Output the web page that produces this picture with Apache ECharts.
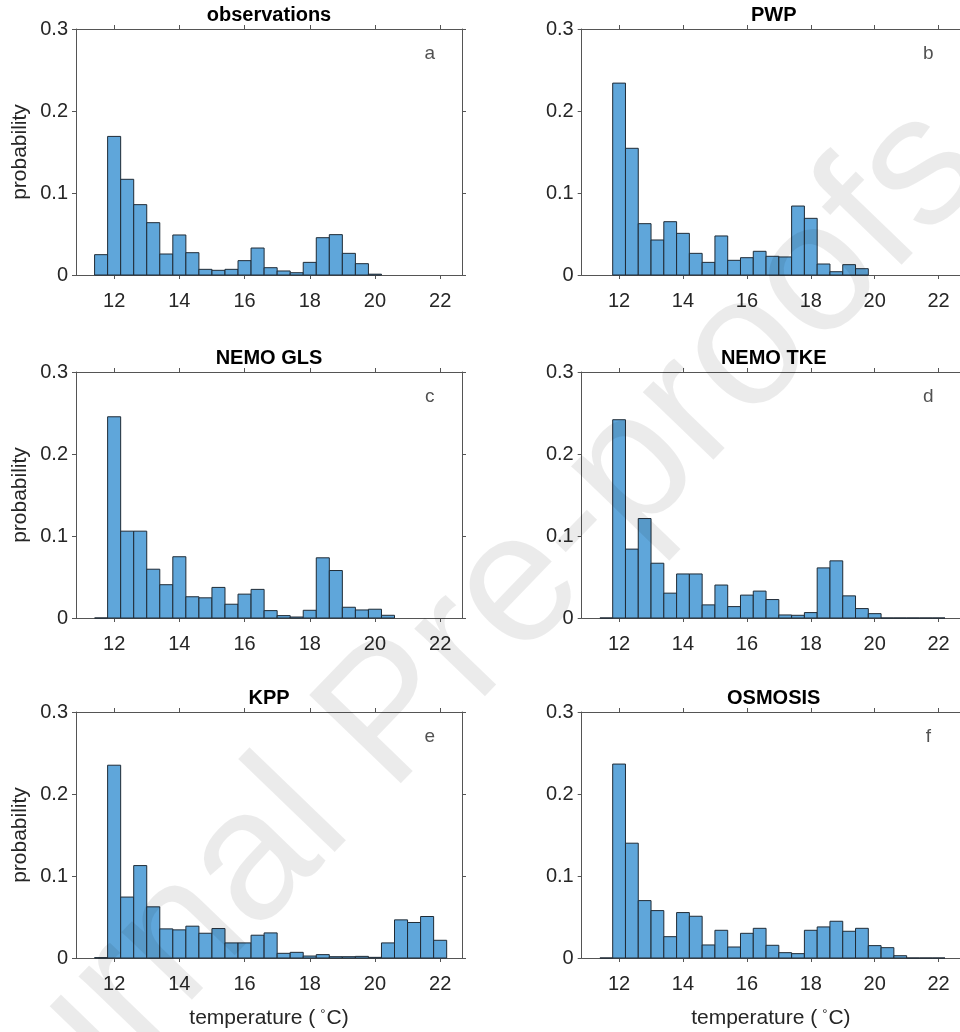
<!DOCTYPE html>
<html>
<head>
<meta charset="utf-8">
<script src="https://cdn.jsdelivr.net/npm/echarts@6/dist/echarts.min.js"></script>
<style>
html,body{margin:0;padding:0;background:#fff;}
#chart{width:960px;height:1032px;}
</style>
</head>
<body>
<div id="chart"></div>
<script>
// ---- data ----
const binEdges = [11.4,11.8,12.2,12.6,13.0,13.4,13.8,14.2,14.6,15.0,15.4,15.8,16.2,16.6,17.0,17.4,17.8,18.2,18.6,19.0,19.4,19.8,20.2,20.6,21.0,21.4,21.8,22.2];
const xTicks = [12,14,16,18,20,22];
const yTicks = [0,0.1,0.2,0.3];
const panelTitles = ['observations','PWP','NEMO GLS','NEMO TKE','KPP','OSMOSIS'];
const panelLetters = ['a','b','c','d','e','f'];

const observations = [0.0248,0.169,0.1167,0.0858,0.0638,0.0256,0.0488,0.0272,0.0069,0.0057,0.0069,0.0175,0.0329,0.0089,0.0049,0.0028,0.0154,0.0455,0.0492,0.0264,0.0138,0.001,null,null,null,null,null];
const pwp = [null,0.234,0.1545,0.0626,0.0427,0.065,0.0508,0.0264,0.0154,0.0476,0.0179,0.0211,0.0289,0.0228,0.022,0.0841,0.0691,0.0134,0.004,0.0126,0.0077,null,null,null,null,null,null];
const nemoGls = [0,0.2454,0.1059,0.1059,0.0595,0.0406,0.0747,0.0259,0.0246,0.0373,0.0168,0.0291,0.0349,0.009,0.0029,0.0012,0.0094,0.0734,0.0579,0.0131,0.0098,0.0107,0.0033,null,null,null,null];
const nemoTke = [0,0.2418,0.084,0.1213,0.0668,0.0303,0.0537,0.0537,0.016,0.0402,0.0139,0.0279,0.0328,0.0225,0.0037,0.0033,0.0066,0.0611,0.0697,0.027,0.0115,0.0053,0,0,0,0,0];
const kpp = [0.0004,0.2351,0.0743,0.1127,0.0624,0.0355,0.0343,0.0388,0.0302,0.0359,0.0184,0.0184,0.0278,0.0306,0.0057,0.0069,0.0024,0.0041,0.0016,0.0016,0.002,0.0008,0.0184,0.0465,0.0433,0.0506,0.0216];
const osmosis = [0,0.2365,0.14,0.07,0.0578,0.026,0.0554,0.0509,0.0159,0.0338,0.0134,0.0301,0.0362,0.0155,0.0065,0.0053,0.0338,0.0379,0.0448,0.0326,0.0362,0.0151,0.0126,0.0028,0,0,0];
const panelSeries = [observations, pwp, nemoGls, nemoTke, kpp, osmosis];

// ---- layout ----
const X_MIN = 10.83, X_MAX = 22.67;
const colLeft = [76, 581.7];
const colWidth = [386, 384];
const rowTop = [29, 372, 712];
const gridH = 246;
const FONT = '"Liberation Sans", Arial, Helvetica, sans-serif';
const TXT = '#262626';
const AX = '#555555';

const chart = echarts.init(document.getElementById('chart'), null, {renderer:'canvas'});

const grids = [], xAxes = [], yAxes = [], series = [], graphics = [];

panelSeries.forEach((vals, i) => {
  const row = Math.floor(i / 2), col = i % 2;
  grids.push({left: colLeft[col], top: rowTop[row], width: colWidth[col], height: gridH, containLabel: false});
  const isBottom = row === 2, isLeft = col === 0;
  const axLine = {show: true, onZero: false, lineStyle: {color: AX, width: 1}};
  const tick = {show: true, inside: false, length: 4, lineStyle: {color: AX, width: 1}};
  xAxes.push({
    type: 'value', gridIndex: i, min: X_MIN, max: X_MAX, position: 'bottom',
    axisLine: axLine,
    axisTick: Object.assign({customValues: xTicks}, tick),
    axisLabel: {customValues: xTicks, fontSize: 20, color: TXT, fontFamily: FONT, margin: 16},
    splitLine: {show: false},
    name: isBottom ? '{n|temperature (}{s|°}{n|C)}' : '',
    nameLocation: 'middle', nameGap: 50,
    nameTextStyle: {fontFamily: FONT, color: TXT, fontSize: 21,
      rich: {n: {fontSize: 21, fontFamily: FONT, color: TXT},
             s: {fontSize: 13, fontFamily: FONT, color: TXT, verticalAlign: 'top', padding: [0, 1, 0, 5]}}}
  });
  xAxes.push({
    type: 'value', gridIndex: i, min: X_MIN, max: X_MAX, position: 'top',
    axisLine: axLine,
    axisTick: Object.assign({customValues: xTicks}, tick),
    axisLabel: {show: false}, splitLine: {show: false}
  });
  yAxes.push({
    type: 'value', gridIndex: i, min: 0, max: 0.3, interval: 0.1, position: 'left',
    axisLine: axLine, axisTick: tick,
    axisLabel: {fontSize: 20, color: TXT, fontFamily: FONT, margin: 8,
      formatter: v => { const t = yTicks.find(y => Math.abs(y - v) < 1e-9); return t === undefined ? '' : String(t); }},
    splitLine: {show: false},
    name: isLeft ? 'probability' : '', nameLocation: 'middle', nameGap: 45,
    nameTextStyle: {fontFamily: FONT, color: TXT, fontSize: 21}
  });
  yAxes.push({
    type: 'value', gridIndex: i, min: 0, max: 0.3, interval: 0.1, position: 'right',
    axisLine: axLine, axisTick: tick, axisLabel: {show: false}, splitLine: {show: false}
  });

  const data = [];
  vals.forEach((v, k) => { if (v !== null) data.push([binEdges[k], binEdges[k + 1], v]); });
  series.push({
    type: 'custom', xAxisIndex: 2 * i, yAxisIndex: 2 * i, data: data,
    encode: {x: [0, 1], y: 2}, clip: false,
    renderItem: (params, api) => {
      const p0 = api.coord([api.value(0), api.value(2)]);
      const p1 = api.coord([api.value(1), 0]);
      return {type: 'rect', shape: {x: p0[0], y: p0[1], width: p1[0] - p0[0], height: p1[1] - p0[1]},
        style: {fill: '#5fa6da', stroke: '#1f2b36', lineWidth: 1}};
    },
    z: 2, silent: true
  });
  series.push({
    type: 'scatter', xAxisIndex: 2 * i, yAxisIndex: 2 * i, symbolSize: 0,
    data: [[21.68, 0.27]], silent: true,
    label: {show: true, position: 'inside', formatter: panelLetters[i], fontSize: 19, color: TXT, fontFamily: FONT}
  });
  graphics.push({
    type: 'text', x: colLeft[col] + colWidth[col] / 2, y: rowTop[row] - 14,
    style: {text: panelTitles[i], font: 'bold 20px ' + FONT, fill: '#000', textAlign: 'center', textVerticalAlign: 'middle'}
  });
});

graphics.push({
  type: 'text', x: 425, y: 685, rotation: 46 * Math.PI / 180, z: 100, silent: true,
  style: {text: 'Journal Pre-proofs', font: '185px ' + FONT, fill: 'rgba(0,0,0,0.08)', textAlign: 'center', textVerticalAlign: 'middle'}
});

chart.setOption({
  animation: false,
  backgroundColor: '#fff',
  grid: grids, xAxis: xAxes, yAxis: yAxes, series: series, graphic: graphics
});
</script>
</body>
</html>
